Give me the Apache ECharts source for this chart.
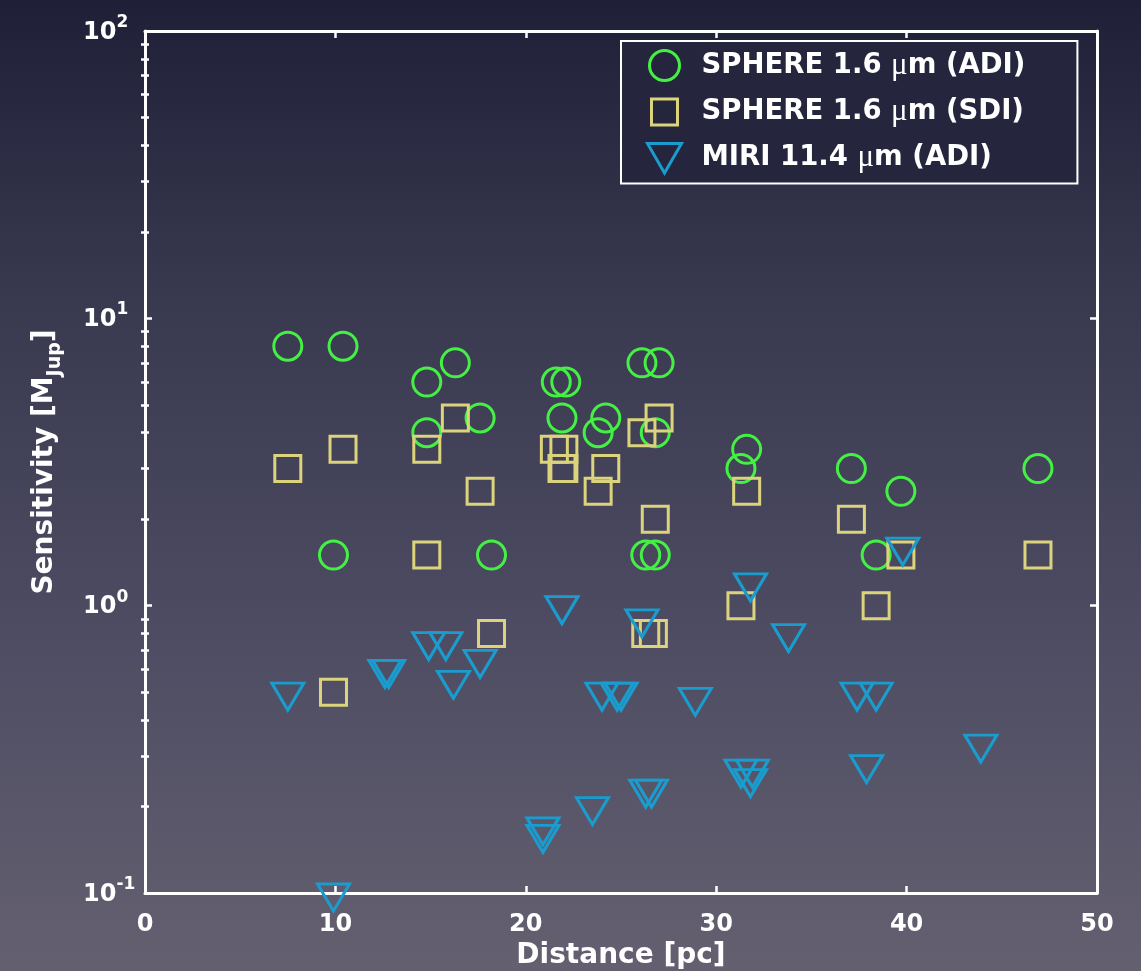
<!DOCTYPE html>
<html>
<head>
<meta charset="utf-8">
<script src="https://cdn.jsdelivr.net/npm/echarts@6/dist/echarts.min.js"></script>
<style>
  html, body { margin: 0; padding: 0; width: 1141px; height: 971px; overflow: hidden; background: #3a3950; }
  #chart { width: 1141px; height: 971px; }
</style>
</head>
<body>
<div id="chart"></div>
<script>
// Detection sensitivity vs. distance for three instrument modes
const adiDistance = [7.5, 10.4, 14.8, 16.3, 14.8, 17.6, 9.9, 18.2, 21.6, 22.1, 21.9, 23.8, 24.2, 26.1, 27.0, 26.8, 26.3, 26.8, 31.6, 31.3, 37.1, 39.7, 38.4, 46.9];
const adiMass     = [8, 8, 6, 7, 4, 4.5, 1.5, 1.5, 6, 6, 4.5, 4, 4.5, 7, 7, 4, 1.5, 1.5, 3.5, 3, 3, 2.5, 1.5, 3];

const sdiDistance = [7.5, 10.4, 14.8, 16.3, 17.6, 14.8, 18.2, 9.9, 21.5, 22.0, 21.9, 22.0, 24.2, 23.8, 26.1, 27.0, 26.8, 31.6, 31.3, 26.3, 26.7, 37.1, 38.4, 39.7, 46.9];
const sdiMass     = [3, 3.5, 3.5, 4.5, 2.5, 1.5, 0.8, 0.5, 3.5, 3.5, 3, 3, 3, 2.5, 4, 4.5, 2, 2.5, 1, 0.8, 0.8, 2, 1, 1.5, 1.5];

const miriDistance = [7.5, 12.6, 12.8, 14.9, 15.8, 16.2, 17.6, 21.9, 20.9, 20.9, 9.9, 26.1, 33.8, 31.8, 39.8, 24.0, 24.8, 25.0, 28.9, 37.4, 38.4, 37.9, 31.3, 31.9, 31.8, 26.3, 26.6, 23.5, 43.9];
const miriMass     = [0.5, 0.6, 0.6, 0.75, 0.75, 0.55, 0.65, 1.0, 0.17, 0.16, 0.1, 0.9, 0.8, 1.2, 1.6, 0.5, 0.5, 0.5, 0.48, 0.5, 0.5, 0.28, 0.27, 0.27, 0.25, 0.23, 0.23, 0.2, 0.33];

const seriesNames = ['SPHERE 1.6 μm (ADI)', 'SPHERE 1.6 μm (SDI)', 'MIRI 11.4 μm (ADI)'];
const xTickValues = [0, 10, 20, 30, 40, 50];
const yMinorTicks = [0.2, 0.3, 0.4, 0.5, 0.6, 0.7, 0.8, 0.9, 2, 3, 4, 5, 6, 7, 8, 9, 20, 30, 40, 50, 60, 70, 80, 90];

const FONT = 'DejaVu Sans';
const WHITE = '#ffffff';
const GREEN = '#45f045';
const KHAKI = '#dcd47c';
const BLUE = '#1a9ccf';

const pairs = (xs, ys) => xs.map((x, i) => [x, ys[i]]);

const chart = echarts.init(document.getElementById('chart'), null, { renderer: 'canvas' });

const axisLineStyle = { show: true, onZero: false, lineStyle: { color: WHITE, width: 3 } };
const majorTick = { show: true, inside: true, length: 7, lineStyle: { color: WHITE, width: 2.5 } };
const minorTick = { show: true, inside: true, length: 4, customValues: yMinorTicks, lineStyle: { color: WHITE, width: 2.5 } };

function logAxis(extra) {
  return Object.assign({
    type: 'log', logBase: 10, min: 0.1, max: 100, splitNumber: 3,
    splitLine: { show: false }, minorSplitLine: { show: false }
  }, extra);
}

// hollow marker style, fully opaque outline
const hollow = color => ({ color: 'rgba(0,0,0,0)', borderColor: color, borderWidth: 3, opacity: 1 });

const triH = 27;

const option = {
  animation: false,
  backgroundColor: {
    type: 'linear', x: 0, y: 0, x2: 0, y2: 1,
    colorStops: [
      { offset: 0, color: '#1f2038' },
      { offset: 0.3, color: '#38384f' },
      { offset: 0.6, color: '#4a4960' },
      { offset: 1, color: '#646070' }
    ]
  },
  grid: { left: 145, right: 44, top: 31, bottom: 78, containLabel: false, outerBoundsMode: 'none' },
  xAxis: [
    {
      type: 'value', position: 'bottom', min: 0, max: 50, interval: 10,
      axisLine: axisLineStyle, axisTick: majorTick, splitLine: { show: false },
      axisLabel: { color: WHITE, fontFamily: FONT, fontWeight: 'bold', fontSize: 24, margin: 20,
        formatter: v => (xTickValues.indexOf(v) >= 0 ? String(v) : '') },
      name: 'Distance [pc]', nameLocation: 'middle', nameGap: 46,
      nameTextStyle: { color: WHITE, fontFamily: FONT, fontWeight: 'bold', fontSize: 28 }
    },
    {
      type: 'value', position: 'top', min: 0, max: 50, interval: 10,
      axisLine: axisLineStyle, axisTick: majorTick, splitLine: { show: false },
      axisLabel: { show: false }
    }
  ],
  yAxis: [
    logAxis({
      position: 'left', axisLine: axisLineStyle, axisTick: majorTick,
      axisLabel: {
        align: 'left', margin: 62, padding: [0, 0, 6, 0],
        formatter: v => '{b|10}{e|' + Math.round(Math.log10(v)) + '}',
        rich: {
          b: { color: WHITE, fontFamily: FONT, fontWeight: 'bold', fontSize: 24, lineHeight: 28, padding: [9, 0, 0, 0] },
          e: { color: WHITE, fontFamily: FONT, fontWeight: 'bold', fontSize: 17, lineHeight: 17, verticalAlign: 'top' }
        }
      },
      name: '{a|Sensitivity [M}{s|Jup}{a|]}', nameLocation: 'middle', nameGap: 86,
      nameTextStyle: {
        rich: {
          a: { color: WHITE, fontFamily: FONT, fontWeight: 'bold', fontSize: 28, lineHeight: 28, verticalAlign: 'top' },
          s: { color: WHITE, fontFamily: FONT, fontWeight: 'bold', fontSize: 19, lineHeight: 19, padding: [15, 0, 0, 0], verticalAlign: 'top' }
        }
      }
    }),
    logAxis({ position: 'left', axisLine: { show: false }, axisTick: minorTick, axisLabel: { show: false } }),
    logAxis({ position: 'right', axisLine: axisLineStyle, axisTick: majorTick, axisLabel: { show: false } }),
    logAxis({ position: 'right', axisLine: { show: false }, axisTick: minorTick, axisLabel: { show: false } })
  ],
  legend: {
    orient: 'vertical', left: 621, top: 41,
    padding: [8, 52, 9, 25],
    itemWidth: 34, itemHeight: 30, itemGap: 13.5,
    symbolRotate: 0,
    backgroundColor: '#25263e', borderColor: WHITE, borderWidth: 2, borderRadius: 0,
    selectedMode: false,
    itemStyle: { borderWidth: 3, opacity: 1 },
    textStyle: {
      color: WHITE, fontFamily: FONT, fontWeight: 'bold', fontSize: 27.5, padding: [0, 0, 0, 15],
      rich: { mu: { color: WHITE, fontFamily: 'Liberation Serif', fontWeight: 'normal', fontSize: 31 } }
    },
    formatter: n => n.replace('μ', '{mu|μ}'),
    data: [
      { name: seriesNames[0], icon: 'circle' },
      { name: seriesNames[1], icon: 'path://M-2,-2 M0,0 L26,0 L26,26 L0,26 Z M28,28' },
      { name: seriesNames[2], icon: 'path://M0,0 L34,0 L17,29.4 Z' }
    ]
  },
  series: [
    {
      name: seriesNames[0], type: 'scatter', xAxisIndex: 0, yAxisIndex: 0,
      data: pairs(adiDistance, adiMass),
      symbol: 'circle', symbolSize: 28,
      itemStyle: hollow(GREEN),
      emphasis: { disabled: true }
    },
    {
      name: seriesNames[1], type: 'scatter', xAxisIndex: 0, yAxisIndex: 0,
      data: pairs(sdiDistance, sdiMass),
      symbol: 'rect', symbolSize: 26,
      itemStyle: hollow(KHAKI),
      emphasis: { disabled: true }
    },
    {
      name: seriesNames[2], type: 'scatter', xAxisIndex: 0, yAxisIndex: 0,
      data: pairs(miriDistance, miriMass),
      symbol: 'triangle', symbolSize: [32, triH], symbolRotate: 180, symbolOffset: [0, triH / 6],
      itemStyle: hollow(BLUE),
      clip: false,
      emphasis: { disabled: true }
    }
  ]
};

chart.setOption(option);
</script>
</body>
</html>
